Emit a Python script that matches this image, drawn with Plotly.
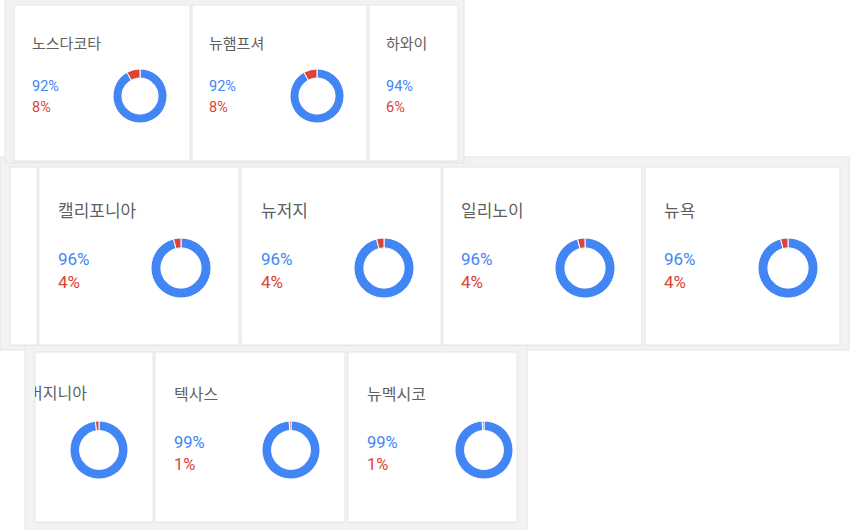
import plotly.graph_objects as go

# ---------------- data ----------------
strip1_states = ["노스다코타", "뉴햄프셔", "하와이"]
strip1_blue = [92, 92, 94]
strip1_red = [8, 8, 6]

strip2_states = ["캘리포니아", "뉴저지", "일리노이", "뉴욕"]
strip2_blue = [96, 96, 96, 96]
strip2_red = [4, 4, 4, 4]

strip3_states = ["버지니아", "텍사스", "뉴멕시코"]
strip3_blue = [98, 99, 99]
strip3_red = [2, 1, 1]

# ---------------- style ----------------
W, H = 850, 530
BLUE = "#4285F4"
RED = "#DB4437"
TITLE = "#5f5f5f"
PANEL = "#f2f2f2"
EDGE = "#e6e6e6"
FONT = "Roboto, Noto Sans CJK KR, sans-serif"

def px(x):
    return x / W

def py(y):
    return 1 - y / H

fig = go.Figure()
shapes = []
annotations = []

def rect(x0, y0, x1, y1, fill, line=None, lw=0):
    shapes.append(dict(type="rect", xref="paper", yref="paper",
                       x0=px(x0), x1=px(x1), y0=py(y1), y1=py(y0),
                       fillcolor=fill, layer="below",
                       line=dict(color=line or fill, width=lw)))

def text(x, y, s, color, size):
    annotations.append(dict(x=px(x - 2), y=py(y), xref="paper", yref="paper",
                            text=s, showarrow=False, xanchor="left", yanchor="middle",
                            font=dict(family=FONT, size=size, color=color)))

def donut(cx, cy, r, b, rd):
    fig.add_trace(go.Pie(values=[b, rd], marker=dict(colors=[BLUE, RED], line=dict(color="white", width=1)),
                         hole=0.67, sort=False, direction="clockwise", rotation=0,
                         textinfo="none", hoverinfo="skip", showlegend=False,
                         domain=dict(x=[px(cx - r), px(cx + r)], y=[py(cy + r), py(cy - r)])))

# strip 2 panel (middle screenshot)
rect(0, 157, 850, 350, PANEL, "#e4e4e4", 1)
# strip 1 panel (top screenshot)
rect(5, -2, 464, 163, PANEL, "#e4e4e4", 1)
# strip 3 panel (bottom screenshot)
rect(25, 344, 527, 540, PANEL, "#e4e4e4", 1)

# cards
cards1 = [(14, 5, 190, 161), (192, 5, 367, 161), (369, 5, 458, 161)]
cards2 = [(10, 167, 37, 345), (39, 167, 239, 345), (241, 167, 441, 345), (443, 167, 642, 345), (645, 167, 840, 345)]
cards3 = [(35, 352, 153, 522), (155, 352, 345, 522), (348, 352, 517, 522)]
for c in cards1 + cards2 + cards3:
    rect(c[0], c[1] + 1, c[2], c[3] + 1, "#e6e6e6")
    rect(*c, "white", EDGE, 1)

# strip 1 content
t1x = [32, 209, 386]
d1x = [140, 317, None]
for i, s in enumerate(strip1_states):
    text(t1x[i], 44, s, TITLE, 15)
    text(t1x[i], 87, f"{strip1_blue[i]}%", BLUE, 14.5)
    text(t1x[i], 107, f"{strip1_red[i]}%", RED, 14.5)
    if d1x[i] is not None:
        donut(d1x[i], 96, 27, strip1_blue[i], strip1_red[i])

# strip 2 content
t2x = [58, 261, 461, 664]
d2x = [181, 384, 585, 788]
for i, s in enumerate(strip2_states):
    text(t2x[i], 211, s, TITLE, 17)
    text(t2x[i], 259, f"{strip2_blue[i]}%", BLUE, 17)
    text(t2x[i], 282, f"{strip2_red[i]}%", RED, 17)
    donut(d2x[i], 268, 30, strip2_blue[i], strip2_red[i])

# strip 3 content
t3x = [None, 174, 367]
d3x = [99, 291, 484]
for i, s in enumerate(strip3_states):
    if t3x[i] is not None:
        text(t3x[i], 395, s, TITLE, 16)
        text(t3x[i], 442, f"{strip3_blue[i]}%", BLUE, 16.5)
        text(t3x[i], 464, f"{strip3_red[i]}%", RED, 16.5)
    donut(d3x[i], 450, 29, strip3_blue[i], strip3_red[i])

# clipped title of the partially visible card
fig.add_trace(go.Scatter(x=[87], y=[395], mode="text", text=[strip3_states[0]],
                         textposition="middle left", cliponaxis=True,
                         textfont=dict(family=FONT, size=16, color=TITLE),
                         hoverinfo="skip", showlegend=False))

fig.update_layout(
    width=W, height=H, margin=dict(l=0, r=0, t=0, b=0),
    paper_bgcolor="white", plot_bgcolor="rgba(0,0,0,0)",
    shapes=shapes, annotations=annotations,
    xaxis=dict(domain=[px(35), px(153)], range=[35, 153], visible=False, fixedrange=True),
    yaxis=dict(domain=[py(522), py(352)], range=[522, 352], visible=False, fixedrange=True),
)

fig.write_html("out.html")
